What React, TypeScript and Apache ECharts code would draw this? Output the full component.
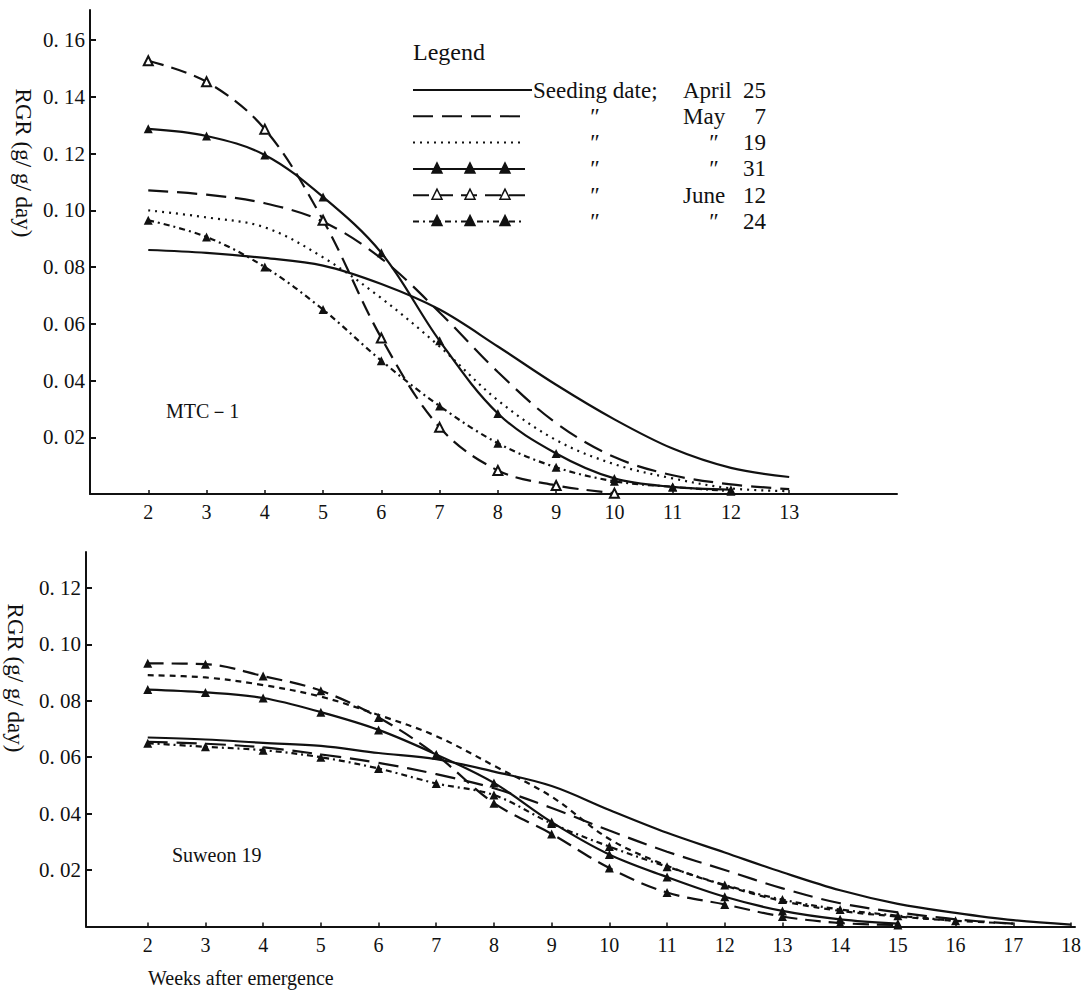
import React, { useEffect, useRef } from 'react';
import * as echarts from 'echarts';

// ---------- data ----------
const weeksTop = [2, 3, 4, 5, 6, 7, 8, 9, 10, 11, 12, 13];
const weeksBottom = [2, 3, 4, 5, 6, 7, 8, 9, 10, 11, 12, 13, 14, 15, 16, 17, 18];

const seriesNames = ['April 25', 'May 7', 'May 19', 'May 31', 'June 12', 'June 24'];

// MTC-1 (top panel)
const mtcApr25 = [0.086, 0.085, 0.0832, 0.0805, 0.074, 0.065, 0.052, 0.0385, 0.0263, 0.016, 0.0092, 0.006];
const mtcMay7 = [0.107, 0.1055, 0.1025, 0.096, 0.083, 0.064, 0.043, 0.025, 0.013, 0.0066, 0.0034, 0.0017];
const mtcMay19 = [0.1, 0.0975, 0.094, 0.0834, 0.069, 0.052, 0.033, 0.019, 0.0105, 0.0055, 0.002, 0.001];
const mtcMay31 = [0.1287, 0.1262, 0.1195, 0.1047, 0.085, 0.054, 0.0284, 0.0143, 0.0055, 0.0025, 0.0015, null];
const mtcJun12 = [0.1527, 0.1453, 0.1286, 0.0965, 0.055, 0.0235, 0.0083, 0.003, 0.0003, null, null, null];
const mtcJun24 = [0.0965, 0.0906, 0.08, 0.065, 0.047, 0.031, 0.0179, 0.0094, 0.0045, 0.0025, 0.001, null];

// Suweon 19 (bottom panel)
const suwApr25 = [0.067, 0.0663, 0.0651, 0.064, 0.0615, 0.0593, 0.0549, 0.0498, 0.0413, 0.0332, 0.0262, 0.0192, 0.0128, 0.008, 0.0048, 0.0022, 0.0006];
const suwMay7 = [0.0655, 0.0648, 0.0635, 0.061, 0.058, 0.054, 0.049, 0.042, 0.034, 0.0265, 0.02, 0.0135, 0.0082, 0.005, 0.0025, 0.001, null];
const suwMay19 = [0.0891, 0.0883, 0.0856, 0.0815, 0.075, 0.0675, 0.057, 0.046, 0.031, 0.0215, 0.0145, 0.009, 0.0055, 0.0035, 0.002, 0.001, null];
const suwMay31 = [0.084, 0.083, 0.081, 0.076, 0.0697, 0.061, 0.0509, 0.037, 0.0255, 0.0175, 0.0105, 0.0055, 0.0025, 0.001, null, null, null];
const suwJun12 = [0.0933, 0.093, 0.0888, 0.0836, 0.0741, 0.0608, 0.0437, 0.0328, 0.0207, 0.012, 0.0078, 0.0035, 0.0012, 0.0005, null, null, null];
const suwJun24 = [0.065, 0.0637, 0.0625, 0.06, 0.056, 0.0507, 0.0466, 0.0365, 0.0283, 0.0212, 0.0147, 0.0095, 0.006, 0.0038, 0.002, null, null];

const xTicksTop = [2, 3, 4, 5, 6, 7, 8, 9, 10, 11, 12, 13];
const xTicksBottom = [2, 3, 4, 5, 6, 7, 8, 9, 10, 11, 12, 13, 14, 15, 16, 17, 18];
const yTicksTop = [0.02, 0.04, 0.06, 0.08, 0.1, 0.12, 0.14, 0.16];
const yTicksBottom = [0.02, 0.04, 0.06, 0.08, 0.1, 0.12];

// ---------- helpers ----------
const FONT = '"Liberation Serif", "DejaVu Serif", serif';
const INK = '#111';

const pairs = (weeks: number[], vals: (number | null)[]) =>
  weeks.map((w, i) => (vals[i] == null ? null : [w, vals[i]])).filter((p) => p !== null);

type Style = { dash: number[] | 'solid'; symbol: string; hollow?: boolean };
const topStyles: Style[] = [
  { dash: 'solid', symbol: 'none' },
  { dash: [20, 9], symbol: 'none' },
  { dash: [2, 5], symbol: 'none' },
  { dash: 'solid', symbol: 'triangle' },
  { dash: [16, 8], symbol: 'triangle', hollow: true },
  { dash: [6, 4, 2, 4], symbol: 'triangle' },
];
const bottomStyles: Style[] = [
  { dash: 'solid', symbol: 'none' },
  { dash: [20, 9], symbol: 'none' },
  { dash: [6, 5], symbol: 'none' },
  { dash: 'solid', symbol: 'triangle' },
  { dash: [16, 8], symbol: 'triangle' },
  { dash: [6, 4, 2, 4], symbol: 'triangle' },
];

const makeSeries = (
  name: string,
  weeks: number[],
  vals: (number | null)[],
  st: Style,
  idx: number
) => ({
  name,
  type: 'line',
  xAxisIndex: idx,
  yAxisIndex: idx,
  data: pairs(weeks, vals),
  smooth: 0.35,
  symbol: st.symbol,
  showSymbol: st.symbol !== 'none',
  symbolSize: 9,
  itemStyle: {
    color: st.hollow ? '#fff' : INK,
    borderColor: INK,
    borderWidth: st.hollow ? 2 : 0,
  },
  lineStyle: { color: INK, width: 2.2, type: st.dash },
  emphasis: { disabled: true },
  z: 3,
});

const xAxisCfg = (grid: number, min: number, max: number, ticks: number[], margin: number) => ({
  type: 'value',
  gridIndex: grid,
  min,
  max,
  axisLine: { show: true, onZero: false, lineStyle: { color: INK, width: 2 } },
  axisTick: { show: true, inside: true, length: 4, customValues: ticks, lineStyle: { color: INK, width: 1.5 } },
  axisLabel: { customValues: ticks, color: INK, fontFamily: FONT, fontSize: 20, margin },
  splitLine: { show: false },
});

const yAxisCfg = (grid: number, max: number, ticks: number[]) => ({
  type: 'value',
  gridIndex: grid,
  min: 0,
  max,
  axisLine: { show: true, onZero: false, lineStyle: { color: INK, width: 2 } },
  axisTick: { show: true, inside: true, length: 6, customValues: ticks, lineStyle: { color: INK, width: 2 } },
  axisLabel: {
    customValues: ticks,
    color: INK,
    fontFamily: FONT,
    fontSize: 21,
    margin: 5,
    formatter: (v: number) => v.toFixed(2).replace('.', '. '),
  },
  splitLine: { show: false },
});

// legend graphics
const legendX0 = 413;
const legendX1 = 525;
const rowY = (i: number) => 90 + i * 26.3;
const ditto = '″';

const legendGraphics = () => {
  const els: any[] = [];
  const t = (text: string, x: number, y: number, align: string = 'left', size = 23) => ({
    type: 'text',
    x,
    y,
    style: { text, fill: INK, font: `${size}px ${FONT}`, align, verticalAlign: 'middle' },
  });
  els.push(t('Legend', 413, 52, 'left', 24));
  const dashes: (number[] | null)[] = [null, [20, 9], [2, 5], null, [16, 8], [6, 4, 2, 4]];
  for (let i = 0; i < 6; i++) {
    const y = rowY(i);
    els.push({
      type: 'line',
      shape: { x1: legendX0, y1: y, x2: i === 0 ? 532 : legendX1, y2: y },
      style: { stroke: INK, lineWidth: 2, lineDash: dashes[i] || undefined },
    });
    if (i >= 3) {
      [437, 470, 505].forEach((cx) => {
        els.push({
          type: 'polygon',
          shape: { points: [[cx, y - 6], [cx - 5, y + 4], [cx + 5, y + 4]] },
          style: { fill: i === 4 ? '#fff' : INK, stroke: INK, lineWidth: 1.5 },
          z: 10,
        });
      });
    }
  }
  els.push(t('Seeding date;', 533, rowY(0)));
  els.push(t('April', 683, rowY(0)));
  els.push(t('25', 766, rowY(0), 'right'));
  const months = [null, 'May', null, null, 'June', null];
  const days = ['', '7', '19', '31', '12', '24'];
  for (let i = 1; i < 6; i++) {
    els.push(t(ditto, 595, rowY(i), 'center'));
    if (months[i]) els.push(t(months[i] as string, 683, rowY(i)));
    else els.push(t(ditto, 714, rowY(i), 'center'));
    els.push(t(days[i], 766, rowY(i), 'right'));
  }
  return els;
};

export default function App() {
  const ref = useRef<HTMLDivElement>(null);
  useEffect(() => {
    if (!ref.current) return;
    const chart = echarts.init(ref.current, undefined, { renderer: 'svg' });
    const topVals = [mtcApr25, mtcMay7, mtcMay19, mtcMay31, mtcJun12, mtcJun24];
    const botVals = [suwApr25, suwMay7, suwMay19, suwMay31, suwJun12, suwJun24];
    const series: any[] = [];
    topVals.forEach((v, i) => series.push(makeSeries('MTC-1 ' + seriesNames[i], weeksTop, v, topStyles[i], 0)));
    botVals.forEach((v, i) => series.push(makeSeries('Suweon 19 ' + seriesNames[i], weeksBottom, v, bottomStyles[i], 1)));

    chart.setOption({
      animation: false,
      backgroundColor: '#fff',
      grid: [
        { left: 90, top: 10, width: 807, height: 484, containLabel: false },
        { left: 86, top: 552, width: 989, height: 374.4, containLabel: false },
      ],
      xAxis: [xAxisCfg(0, 1, 14.85, xTicksTop, 8), xAxisCfg(1, 0.93, 18.07, xTicksBottom, 9)],
      yAxis: [yAxisCfg(0, 0.1706, yTicksTop), yAxisCfg(1, 0.1328, yTicksBottom)],
      series,
      graphic: [
        ...legendGraphics(),
        {
          type: 'text',
          x: 23,
          y: 163,
          rotation: -Math.PI / 2,
          style: { text: 'RGR (g/ g/ day)', fill: INK, font: `23px ${FONT}`, align: 'center', verticalAlign: 'middle' },
        },
        {
          type: 'text',
          x: 15,
          y: 678,
          rotation: -Math.PI / 2,
          style: { text: 'RGR (g/ g/ day)', fill: INK, font: `23px ${FONT}`, align: 'center', verticalAlign: 'middle' },
        },
        {
          type: 'text',
          x: 166,
          y: 411,
          style: { text: 'MTC－1', fill: INK, font: `20px ${FONT}`, verticalAlign: 'middle' },
        },
        {
          type: 'text',
          x: 172,
          y: 855,
          style: { text: 'Suweon 19', fill: INK, font: `20px ${FONT}`, verticalAlign: 'middle' },
        },
        {
          type: 'text',
          x: 148,
          y: 978,
          style: { text: 'Weeks after emergence', fill: INK, font: `20px ${FONT}`, verticalAlign: 'middle' },
        },
      ],
    });
    return () => chart.dispose();
  }, []);
  return (
    <div
      ref={ref}
      style={{ position: 'absolute', left: 0, top: 0, width: 1085, height: 997, background: '#fff' }}
    />
  );
}
